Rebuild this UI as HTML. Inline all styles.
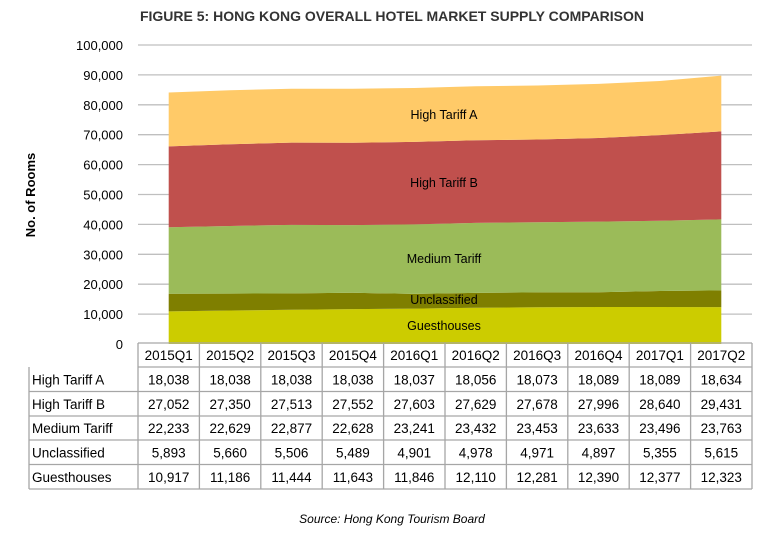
<!DOCTYPE html>
<html><head><meta charset="utf-8"><style>
body{margin:0;background:#fff;}
svg text{font-family:"Liberation Sans",sans-serif;}
</style></head><body>
<svg width="768" height="538" xmlns="http://www.w3.org/2000/svg" id="s">
<text x="392" y="21" text-anchor="middle" font-size="14" font-weight="bold" fill="#333">FIGURE 5: HONG KONG OVERALL HOTEL MARKET SUPPLY COMPARISON</text>
<text transform="translate(35,195) rotate(-90)" text-anchor="middle" font-size="13" font-weight="bold" fill="#000">No. of Rooms</text>
<g id="grid"></g><g id="areas"></g><g id="tbl"></g>
<text x="392" y="523" text-anchor="middle" font-size="12" font-style="italic" fill="#000">Source: Hong Kong Tourism Board</text>
</svg>
<script>
const ns="http://www.w3.org/2000/svg";
function el(p,t,a,txt){const e=document.createElementNS(ns,t);for(const k in a)e.setAttribute(k,a[k]);if(txt!==undefined)e.textContent=txt;document.getElementById(p).appendChild(e);return e;}
const y0=344,sc=0.00299,X0=138,cw=61.4;
for(let i=0;i<=10;i++){const y=y0-i*29.9;
 if(i>0)el("grid","line",{x1:X0,x2:752,y1:y,y2:y,stroke:"#bfbfbf","stroke-width":1.3});
 el("grid","text",{x:123,y:y+5,"text-anchor":"end","font-size":"13",fill:"#000"},(i*10000).toLocaleString("en-US"));}
const names=["High Tariff A","High Tariff B","Medium Tariff","Unclassified","Guesthouses"];
const D=[[18038,18038,18038,18038,18037,18056,18073,18089,18089,18634],
[27052,27350,27513,27552,27603,27629,27678,27996,28640,29431],
[22233,22629,22877,22628,23241,23432,23453,23633,23496,23763],
[5893,5660,5506,5489,4901,4978,4971,4897,5355,5615],
[10917,11186,11444,11643,11846,12110,12281,12390,12377,12323]];
const cols=["#FFCA68","#C0504D","#9BBB59","#7F7F00","#CCCC00"];
const cx=i=>X0+cw*(i+0.5);
let base=Array(10).fill(0);
const labels=[["Guesthouses",326],["Unclassified",300],["Medium Tariff",259],["High Tariff B",183],["High Tariff A",115]];
for(let s=4;s>=0;s--){const top=base.map((b,i)=>b+D[s][i]);
 let p="";for(let i=0;i<10;i++)p+=(i?"L":"M")+cx(i)+","+(y0-top[i]*sc);
 for(let i=9;i>=0;i--)p+="L"+cx(i)+","+(y0-base[i]*sc);
 el("areas","path",{d:p+"Z",fill:cols[s]});base=top;}
labels.forEach(l=>el("areas","text",{x:444,y:l[1]+4,"text-anchor":"middle","font-size":"12.5",fill:"#000"},l[0]));
const rows=[343,367,391.5,416,440,464.5,489];
const ln=(x1,y1,x2,y2)=>el("tbl","line",{x1,y1,x2,y2,stroke:"#a6a6a6","stroke-width":1.3});
for(let r=0;r<rows.length;r++)ln(r<2?X0:29,rows[r],752,rows[r]);
ln(29,367,29,489);
for(let c=0;c<=10;c++)ln(X0+c*cw,343,X0+c*cw,489);
for(let c=0;c<10;c++)el("tbl","text",{x:cx(c),y:360,"text-anchor":"middle","font-size":"13.5"},["2015Q1","2015Q2","2015Q3","2015Q4","2016Q1","2016Q2","2016Q3","2016Q4","2017Q1","2017Q2"][c]);
for(let r=0;r<5;r++){const ty=(rows[r+1]+rows[r+2])/2+5;
 el("tbl","text",{x:32,y:ty,"font-size":"13.5"},names[r]);
 for(let c=0;c<10;c++)el("tbl","text",{x:cx(c),y:ty,"text-anchor":"middle","font-size":"13.5"},D[r][c].toLocaleString("en-US"));}
</script>
</body></html>
